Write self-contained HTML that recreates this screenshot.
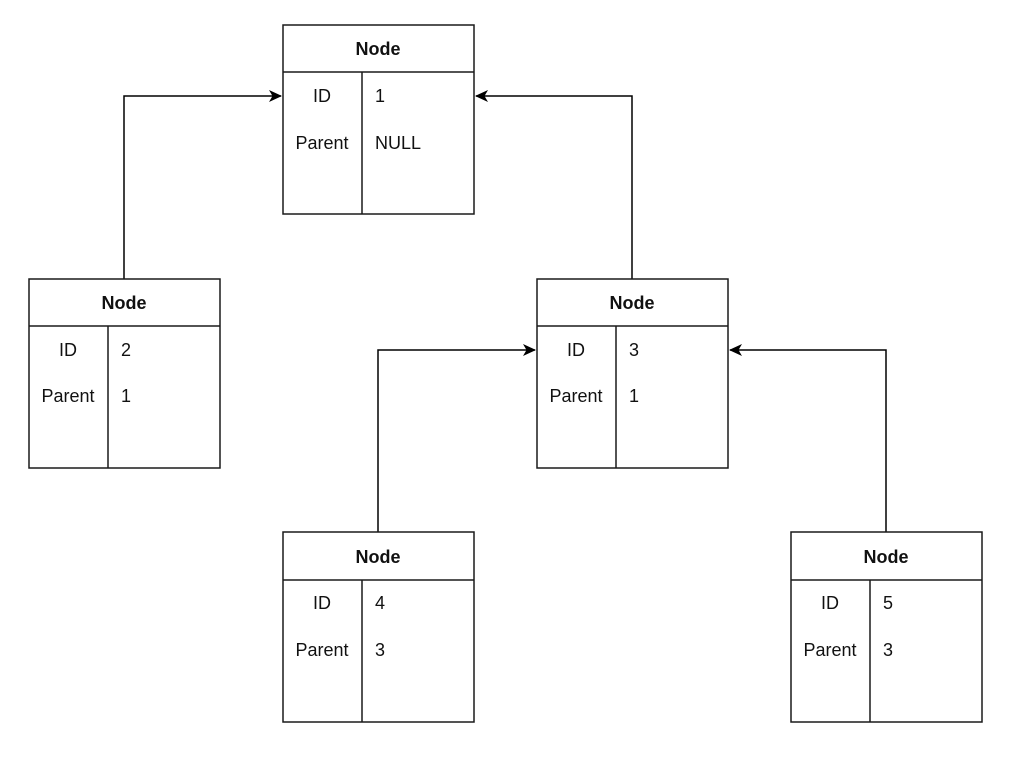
<!DOCTYPE html>
<html><head><style>html,body{margin:0;padding:0;background:#fff}svg{display:block}</style></head><body>
<svg width="1024" height="768" xmlns="http://www.w3.org/2000/svg" font-family="'Liberation Sans', Arial, sans-serif" font-size="18">
<defs><marker id="a" markerWidth="14" markerHeight="14" refX="12" refY="7" orient="auto" markerUnits="userSpaceOnUse"><path d="M0,1 L13,7 L0,13 L3.5,7 Z" fill="#000"/></marker></defs>
<g fill="none" stroke="#000" stroke-width="1.5">
<path d="M124,279 V96 H281" marker-end="url(#a)"/>
<path d="M632,279 V96 H476" marker-end="url(#a)"/>
<path d="M378,532 V350 H535" marker-end="url(#a)"/>
<path d="M886,532 V350 H730" marker-end="url(#a)"/>
</g>
<g fill="#fff" stroke="#1a1a1a" stroke-width="1.5">
<rect x="283" y="25" width="191" height="189"/><path d="M283,72 H474 M362,72 V214"/>
<rect x="29" y="279" width="191" height="189"/><path d="M29,326 H220 M108,326 V468"/>
<rect x="537" y="279" width="191" height="189"/><path d="M537,326 H728 M616,326 V468"/>
<rect x="283" y="532" width="191" height="190"/><path d="M283,580 H474 M362,580 V722"/>
<rect x="791" y="532" width="191" height="190"/><path d="M791,580 H982 M870,580 V722"/>
</g>
<g fill="#111">
<text x="378" y="55" font-weight="bold" text-anchor="middle">Node</text>
<text x="322" y="102" text-anchor="middle">ID</text><text x="375" y="102">1</text>
<text x="322" y="149" text-anchor="middle">Parent</text><text x="375" y="149">NULL</text>

<text x="124" y="309" font-weight="bold" text-anchor="middle">Node</text>
<text x="68" y="356" text-anchor="middle">ID</text><text x="121" y="356">2</text>
<text x="68" y="402" text-anchor="middle">Parent</text><text x="121" y="402">1</text>

<text x="632" y="309" font-weight="bold" text-anchor="middle">Node</text>
<text x="576" y="356" text-anchor="middle">ID</text><text x="629" y="356">3</text>
<text x="576" y="402" text-anchor="middle">Parent</text><text x="629" y="402">1</text>

<text x="378" y="563" font-weight="bold" text-anchor="middle">Node</text>
<text x="322" y="609" text-anchor="middle">ID</text><text x="375" y="609">4</text>
<text x="322" y="656" text-anchor="middle">Parent</text><text x="375" y="656">3</text>

<text x="886" y="563" font-weight="bold" text-anchor="middle">Node</text>
<text x="830" y="609" text-anchor="middle">ID</text><text x="883" y="609">5</text>
<text x="830" y="656" text-anchor="middle">Parent</text><text x="883" y="656">3</text>
</g>
</svg>
</body></html>
